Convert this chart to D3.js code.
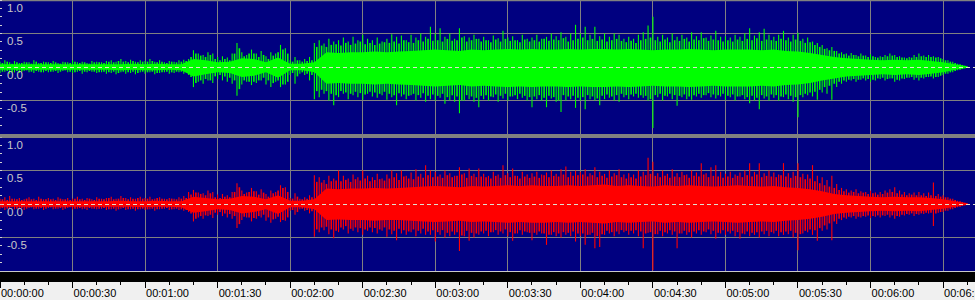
<!DOCTYPE html>
<html><head><meta charset="utf-8">
<script src="https://cdn.jsdelivr.net/npm/d3@7"></script>
<style>body{margin:0;background:#f0f0f0;overflow:hidden}svg{display:block}</style>
</head><body><svg id="c" width="975" height="300"></svg>
<script>
// ---- data ----
const peakStep = 2;   // seconds between peak samples (even seconds)
const midOffset = 1;  // secondary peaks sit on the odd seconds
const bodyStep = 5;   // seconds between body (dense) samples
const timeTickSeconds = [0,30,60,90,120,150,180,210,240,270,300,330,360,390];
const timeTickLabels = ["00:00:00","00:00:30","00:01:00","00:01:30","00:02:00","00:02:30","00:03:00","00:03:30","00:04:00","00:04:30","00:05:00","00:05:30","00:06:00","00:06:30"];
const ampTickValues = [1, 0.5, 0, -0.5];
const ampTickLabels = ["1.0","0.5","0.0","-0.5"];

const leftPeakTop = [
0.08,0.1,0.07,0.09,0.06,0.08,0.07,0.1,0.06,0.08,
0.07,0.09,0.06,0.08,0.07,0.1,0.07,0.08,0.06,0.09,
0.08,0.07,0.09,0.1,0.08,0.12,0.09,0.11,0.08,0.1,
0.09,0.12,0.08,0.1,0.07,0.09,0.08,0.1,0.11,0.12,
0.25,0.2,0.18,0.22,0.2,0.15,0.16,0.14,0.2,0.36,
0.22,0.18,0.26,0.2,0.24,0.16,0.22,0.2,0.33,0.28,
0.1,0.15,0.1,0.12,0.15,0.36,0.4,0.35,0.42,0.38,
0.4,0.44,0.38,0.45,0.4,0.48,0.42,0.4,0.44,0.38,
0.42,0.49,0.45,0.47,0.4,0.48,0.44,0.5,0.45,0.6,
0.5,0.58,0.45,0.5,0.42,0.58,0.46,0.44,0.48,0.42,
0.45,0.4,0.47,0.43,0.54,0.44,0.46,0.4,0.48,0.42,
0.44,0.48,0.42,0.45,0.5,0.46,0.52,0.45,0.5,0.63,
0.5,0.6,0.48,0.6,0.46,0.5,0.45,0.5,0.48,0.42,
0.45,0.42,0.48,0.52,0.62,0.75,0.45,0.48,0.44,0.5,
0.45,0.48,0.44,0.52,0.46,0.52,0.44,0.47,0.54,0.45,
0.46,0.44,0.48,0.45,0.5,0.58,0.47,0.52,0.57,0.48,
0.45,0.48,0.54,0.44,0.48,0.51,0.42,0.44,0.38,0.36,
0.33,0.28,0.3,0.24,0.22,0.2,0.21,0.18,0.2,0.17,
0.19,0.15,0.16,0.18,0.2,0.18,0.16,0.14,0.15,0.18,
0.2,0.17,0.18,0.16,0.15,0.12,0.1,0.08,0.05,0.03,
0.01];
const leftPeakBottom = [
0.09,0.07,0.1,0.08,0.09,0.06,0.08,0.09,0.07,0.08,
0.08,0.07,0.09,0.06,0.08,0.09,0.07,0.1,0.08,0.07,
0.09,0.08,0.1,0.09,0.11,0.08,0.1,0.09,0.11,0.08,
0.1,0.08,0.11,0.09,0.08,0.1,0.09,0.08,0.1,0.12,
0.3,0.22,0.25,0.2,0.24,0.18,0.2,0.22,0.25,0.43,
0.26,0.22,0.27,0.24,0.2,0.26,0.3,0.22,0.3,0.26,
0.12,0.25,0.1,0.12,0.2,0.48,0.45,0.4,0.5,0.57,
0.45,0.4,0.48,0.42,0.45,0.49,0.4,0.44,0.46,0.42,
0.49,0.45,0.57,0.44,0.48,0.42,0.5,0.46,0.52,0.48,
0.5,0.46,0.55,0.5,0.52,0.69,0.5,0.48,0.52,0.6,
0.48,0.5,0.45,0.52,0.47,0.5,0.44,0.48,0.46,0.5,
0.6,0.48,0.5,0.6,0.47,0.52,0.67,0.5,0.48,0.61,
0.5,0.63,0.48,0.5,0.57,0.48,0.46,0.5,0.52,0.45,
0.48,0.44,0.46,0.46,0.5,0.91,0.45,0.5,0.44,0.48,
0.58,0.45,0.48,0.49,0.44,0.46,0.42,0.45,0.47,0.44,
0.49,0.45,0.5,0.44,0.48,0.54,0.5,0.63,0.47,0.5,
0.46,0.5,0.45,0.48,0.52,0.75,0.45,0.42,0.44,0.49,
0.38,0.4,0.49,0.3,0.25,0.22,0.2,0.22,0.19,0.2,
0.22,0.2,0.18,0.2,0.17,0.22,0.2,0.18,0.16,0.19,
0.2,0.17,0.15,0.17,0.15,0.12,0.1,0.08,0.05,0.03,
0.01];
const leftMidTop = [
0.06,0.08,0.05,0.07,0.06,0.07,0.05,0.08,0.06,0.07,
0.06,0.07,0.05,0.07,0.06,0.08,0.06,0.07,0.05,0.07,
0.07,0.06,0.08,0.07,0.09,0.08,0.07,0.09,0.07,0.08,
0.08,0.09,0.07,0.08,0.06,0.08,0.07,0.08,0.09,0.15,
0.2,0.17,0.15,0.18,0.12,0.1,0.12,0.1,0.2,0.28,
0.16,0.2,0.2,0.15,0.18,0.12,0.17,0.22,0.26,0.2,
0.08,0.1,0.08,0.09,0.1,0.3,0.32,0.3,0.33,0.34,
0.32,0.36,0.33,0.35,0.38,0.34,0.36,0.33,0.35,0.37,
0.36,0.38,0.35,0.4,0.37,0.36,0.4,0.38,0.42,0.39,
0.4,0.38,0.42,0.39,0.4,0.44,0.38,0.4,0.42,0.38,
0.4,0.37,0.41,0.38,0.42,0.39,0.4,0.37,0.41,0.38,
0.4,0.38,0.42,0.39,0.41,0.4,0.43,0.38,0.4,0.42,
0.44,0.4,0.42,0.39,0.41,0.38,0.4,0.42,0.39,0.37,
0.39,0.36,0.4,0.42,0.44,0.4,0.38,0.41,0.37,0.4,
0.39,0.42,0.38,0.41,0.4,0.43,0.39,0.41,0.4,0.38,
0.4,0.38,0.41,0.39,0.42,0.4,0.43,0.39,0.41,0.4,
0.39,0.42,0.4,0.38,0.41,0.39,0.36,0.37,0.33,0.3,
0.27,0.25,0.24,0.2,0.19,0.17,0.18,0.16,0.17,0.15,
0.16,0.14,0.15,0.16,0.17,0.15,0.14,0.13,0.14,0.15,
0.16,0.15,0.15,0.14,0.13,0.1,0.08,0.06,0.04,0.02];
const leftMidBottom = [
0.07,0.06,0.08,0.06,0.07,0.05,0.07,0.06,0.08,0.06,
0.07,0.06,0.07,0.05,0.07,0.08,0.06,0.07,0.06,0.07,
0.08,0.07,0.08,0.07,0.09,0.07,0.08,0.07,0.09,0.07,
0.08,0.07,0.09,0.08,0.07,0.08,0.07,0.07,0.08,0.15,
0.24,0.2,0.18,0.2,0.14,0.12,0.14,0.16,0.2,0.33,
0.2,0.22,0.22,0.2,0.16,0.2,0.24,0.2,0.26,0.22,
0.09,0.14,0.08,0.1,0.12,0.36,0.34,0.36,0.4,0.42,
0.36,0.38,0.4,0.37,0.39,0.41,0.37,0.38,0.4,0.37,
0.4,0.42,0.39,0.41,0.43,0.4,0.42,0.39,0.43,0.41,
0.43,0.4,0.45,0.42,0.44,0.5,0.42,0.44,0.46,0.43,
0.42,0.44,0.41,0.43,0.4,0.44,0.42,0.4,0.43,0.45,
0.44,0.42,0.46,0.43,0.45,0.5,0.42,0.44,0.43,0.46,
0.45,0.42,0.44,0.47,0.43,0.41,0.44,0.42,0.4,0.42,
0.41,0.4,0.42,0.43,0.48,0.42,0.4,0.43,0.4,0.42,
0.43,0.41,0.44,0.42,0.4,0.42,0.39,0.41,0.42,0.4,
0.43,0.41,0.44,0.42,0.45,0.43,0.46,0.42,0.44,0.41,
0.42,0.44,0.41,0.43,0.45,0.42,0.4,0.38,0.37,0.34,
0.3,0.28,0.25,0.22,0.2,0.19,0.18,0.19,0.17,0.18,
0.19,0.17,0.16,0.18,0.17,0.19,0.17,0.16,0.15,0.16,
0.16,0.15,0.14,0.15,0.13,0.1,0.08,0.06,0.04,0.02];
const leftBodyTop = [
0.04,0.04,0.04,0.04,0.04,0.04,0.04,0.04,0.04,0.04,0.04,0.05,0.04,0.05,0.04,0.04,
0.12,0.1,0.07,0.08,0.13,0.12,0.07,0.14,0.05,0.05,0.07,
0.22,0.21,0.22,0.22,0.23,0.22,0.23,0.24,0.25,0.26,0.25,0.24,0.26,0.25,0.26,
0.27,0.26,0.27,0.26,0.26,0.27,0.26,0.27,0.27,0.26,0.27,0.26,0.25,0.26,0.26,
0.27,0.26,0.25,0.26,0.26,0.26,0.25,0.26,0.24,0.23,0.21,0.18,
0.15,0.13,0.12,0.11,0.1,0.11,0.1,0.11,0.09,0.07,0.04,0.01];
const leftBodyBottom = [
0.04,0.04,0.04,0.04,0.04,0.04,0.04,0.04,0.04,0.04,0.05,0.04,0.05,0.05,0.04,0.05,
0.14,0.11,0.08,0.09,0.15,0.13,0.08,0.16,0.05,0.05,0.08,
0.25,0.24,0.25,0.25,0.26,0.25,0.26,0.27,0.28,0.29,0.28,0.27,0.29,0.28,0.29,
0.3,0.29,0.3,0.29,0.29,0.3,0.29,0.3,0.3,0.29,0.3,0.29,0.28,0.29,0.29,
0.3,0.29,0.28,0.29,0.29,0.29,0.28,0.29,0.27,0.26,0.24,0.2,
0.17,0.14,0.13,0.12,0.11,0.12,0.11,0.12,0.1,0.08,0.04,0.01];

const rightPeakTop = [
0.08,0.1,0.12,0.08,0.09,0.07,0.1,0.08,0.11,0.07,
0.09,0.08,0.1,0.07,0.09,0.08,0.11,0.08,0.09,0.07,
0.1,0.08,0.09,0.11,0.08,0.12,0.09,0.1,0.08,0.11,
0.09,0.11,0.08,0.1,0.08,0.09,0.08,0.1,0.12,0.18,
0.21,0.17,0.16,0.2,0.18,0.14,0.15,0.13,0.18,0.31,
0.2,0.17,0.24,0.19,0.22,0.15,0.2,0.18,0.28,0.25,
0.09,0.16,0.08,0.1,0.13,0.43,0.4,0.36,0.42,0.38,
0.5,0.42,0.38,0.44,0.4,0.5,0.42,0.4,0.45,0.38,
0.44,0.5,0.46,0.5,0.42,0.47,0.52,0.45,0.58,0.5,
0.48,0.44,0.5,0.46,0.42,0.55,0.46,0.53,0.45,0.53,
0.45,0.42,0.48,0.44,0.58,0.46,0.53,0.42,0.48,0.44,
0.46,0.48,0.44,0.47,0.5,0.45,0.52,0.56,0.48,0.5,
0.48,0.52,0.46,0.55,0.48,0.45,0.5,0.46,0.52,0.44,
0.46,0.44,0.5,0.48,0.69,0.63,0.46,0.5,0.45,0.52,
0.46,0.48,0.44,0.5,0.47,0.61,0.46,0.55,0.58,0.48,
0.45,0.48,0.44,0.47,0.5,0.61,0.48,0.61,0.46,0.5,
0.47,0.44,0.61,0.46,0.48,0.61,0.45,0.44,0.58,0.42,
0.4,0.36,0.42,0.3,0.24,0.22,0.2,0.22,0.19,0.18,
0.2,0.17,0.18,0.2,0.22,0.25,0.2,0.18,0.16,0.17,
0.18,0.16,0.17,0.32,0.15,0.13,0.1,0.08,0.05,0.03,
0.01];
const rightPeakBottom = [
0.07,0.09,0.06,0.08,0.07,0.09,0.06,0.08,0.07,0.09,
0.06,0.08,0.07,0.09,0.06,0.08,0.07,0.08,0.09,0.07,
0.08,0.07,0.09,0.08,0.1,0.07,0.09,0.08,0.1,0.08,
0.09,0.08,0.1,0.08,0.07,0.09,0.08,0.09,0.1,0.12,
0.26,0.2,0.22,0.18,0.21,0.16,0.18,0.2,0.22,0.36,
0.24,0.2,0.26,0.22,0.2,0.25,0.28,0.22,0.27,0.25,
0.1,0.16,0.08,0.1,0.14,0.49,0.42,0.39,0.45,0.51,
0.42,0.38,0.44,0.4,0.42,0.46,0.4,0.42,0.44,0.4,
0.49,0.45,0.54,0.44,0.46,0.42,0.48,0.44,0.46,0.46,
0.56,0.46,0.5,0.48,0.46,0.7,0.48,0.55,0.5,0.46,
0.44,0.48,0.42,0.46,0.44,0.48,0.55,0.44,0.46,0.42,
0.54,0.46,0.44,0.61,0.46,0.48,0.5,0.46,0.48,0.56,
0.48,0.61,0.46,0.66,0.64,0.46,0.44,0.48,0.45,0.42,
0.46,0.44,0.48,0.66,0.43,0.99,0.45,0.48,0.44,0.46,
0.66,0.44,0.46,0.5,0.44,0.46,0.42,0.45,0.52,0.44,
0.46,0.44,0.48,0.52,0.45,0.48,0.46,0.5,0.45,0.48,
0.44,0.48,0.46,0.45,0.5,0.69,0.44,0.42,0.46,0.55,
0.4,0.38,0.54,0.3,0.24,0.22,0.2,0.22,0.2,0.19,
0.21,0.19,0.2,0.18,0.2,0.22,0.19,0.17,0.16,0.18,
0.16,0.15,0.14,0.33,0.13,0.12,0.1,0.08,0.05,0.03,
0.01];
const rightMidTop = [
0.07,0.06,0.08,0.07,0.06,0.08,0.07,0.06,0.08,0.07,
0.07,0.06,0.08,0.07,0.06,0.08,0.07,0.06,0.08,0.06,
0.08,0.07,0.09,0.07,0.08,0.09,0.07,0.08,0.09,0.08,
0.08,0.07,0.09,0.08,0.07,0.08,0.07,0.08,0.09,0.14,
0.17,0.15,0.13,0.16,0.1,0.09,0.11,0.1,0.18,0.25,
0.15,0.18,0.19,0.14,0.17,0.11,0.16,0.2,0.24,0.18,
0.08,0.11,0.07,0.08,0.1,0.33,0.32,0.3,0.34,0.35,
0.34,0.36,0.33,0.37,0.35,0.38,0.34,0.36,0.37,0.35,
0.38,0.4,0.36,0.41,0.38,0.37,0.41,0.39,0.43,0.4,
0.41,0.39,0.43,0.4,0.42,0.44,0.39,0.42,0.4,0.41,
0.4,0.38,0.42,0.39,0.43,0.4,0.42,0.38,0.41,0.39,
0.41,0.39,0.43,0.4,0.42,0.41,0.44,0.4,0.42,0.43,
0.44,0.41,0.43,0.4,0.42,0.39,0.41,0.43,0.4,0.38,
0.4,0.38,0.41,0.43,0.45,0.42,0.4,0.42,0.39,0.41,
0.4,0.43,0.39,0.42,0.41,0.44,0.4,0.42,0.41,0.39,
0.41,0.39,0.42,0.4,0.43,0.41,0.44,0.4,0.42,0.41,
0.4,0.43,0.41,0.39,0.42,0.4,0.37,0.38,0.34,0.31,
0.28,0.26,0.24,0.21,0.19,0.17,0.18,0.16,0.17,0.15,
0.16,0.14,0.15,0.17,0.18,0.16,0.14,0.13,0.14,0.13,
0.13,0.12,0.13,0.12,0.11,0.1,0.08,0.06,0.04,0.02];
const rightMidBottom = [
0.06,0.07,0.05,0.07,0.06,0.07,0.05,0.07,0.06,0.07,
0.05,0.07,0.06,0.07,0.05,0.07,0.06,0.07,0.06,0.07,
0.07,0.06,0.08,0.07,0.08,0.06,0.08,0.07,0.08,0.07,
0.08,0.07,0.08,0.07,0.06,0.08,0.07,0.08,0.09,0.14,
0.22,0.18,0.17,0.16,0.13,0.12,0.14,0.15,0.18,0.3,
0.19,0.2,0.21,0.18,0.16,0.2,0.23,0.19,0.24,0.2,
0.09,0.12,0.07,0.09,0.11,0.38,0.35,0.34,0.38,0.4,
0.35,0.33,0.37,0.35,0.36,0.38,0.35,0.36,0.38,0.35,
0.38,0.4,0.37,0.39,0.41,0.38,0.4,0.37,0.41,0.39,
0.42,0.39,0.43,0.41,0.42,0.47,0.4,0.43,0.44,0.41,
0.4,0.42,0.39,0.41,0.38,0.42,0.44,0.39,0.41,0.43,
0.43,0.41,0.44,0.46,0.42,0.44,0.42,0.43,0.41,0.44,
0.44,0.46,0.43,0.48,0.45,0.4,0.42,0.41,0.39,0.4,
0.4,0.39,0.41,0.44,0.42,0.45,0.4,0.42,0.39,0.41,
0.44,0.4,0.42,0.41,0.39,0.41,0.38,0.4,0.43,0.39,
0.41,0.4,0.42,0.44,0.41,0.43,0.42,0.41,0.4,0.42,
0.4,0.42,0.41,0.4,0.43,0.45,0.4,0.38,0.39,0.36,
0.32,0.29,0.26,0.22,0.2,0.19,0.18,0.19,0.18,0.17,
0.18,0.17,0.17,0.16,0.17,0.18,0.16,0.15,0.14,0.15,
0.14,0.13,0.13,0.14,0.12,0.1,0.08,0.06,0.04,0.02];
const rightBodyTop = [
0.04,0.04,0.04,0.04,0.04,0.04,0.04,0.04,0.04,0.04,0.05,0.04,0.04,0.05,0.04,0.04,
0.11,0.09,0.07,0.08,0.12,0.11,0.07,0.13,0.05,0.05,0.07,
0.23,0.22,0.23,0.23,0.24,0.23,0.24,0.25,0.26,0.27,0.26,0.25,0.27,0.26,0.27,
0.28,0.27,0.28,0.27,0.27,0.28,0.27,0.28,0.29,0.27,0.28,0.27,0.26,0.28,0.27,
0.28,0.27,0.26,0.27,0.28,0.27,0.26,0.27,0.25,0.24,0.22,0.19,
0.15,0.13,0.12,0.11,0.1,0.11,0.1,0.1,0.09,0.07,0.04,0.01];
const rightBodyBottom = [
0.04,0.04,0.04,0.04,0.04,0.04,0.04,0.04,0.04,0.04,0.04,0.04,0.05,0.04,0.04,0.05,
0.13,0.11,0.08,0.09,0.14,0.12,0.08,0.15,0.05,0.05,0.08,
0.24,0.23,0.24,0.24,0.25,0.24,0.24,0.25,0.26,0.27,0.26,0.25,0.27,0.26,0.27,
0.28,0.27,0.28,0.28,0.27,0.28,0.27,0.28,0.29,0.27,0.28,0.27,0.26,0.28,0.27,
0.28,0.27,0.26,0.27,0.28,0.27,0.26,0.27,0.25,0.24,0.22,0.19,
0.15,0.13,0.12,0.11,0.1,0.11,0.1,0.11,0.09,0.07,0.04,0.01];

// ---- drawing ----
const W = 975, H = 300;
const svg = d3.select("#c");
const x = d3.scaleLinear().domain([0, 403.2]).range([0, W]);
const panels = [
  {y: d3.scaleLinear().domain([-1, 1]).range([134, 0]), color: "#00ff00",
   pTop: leftPeakTop, pBot: leftPeakBottom, mTop: leftMidTop, mBot: leftMidBottom,
   bTop: leftBodyTop, bBot: leftBodyBottom},
  {y: d3.scaleLinear().domain([-1, 1]).range([271, 137]), color: "#ff0000",
   pTop: rightPeakTop, pBot: rightPeakBottom, mTop: rightMidTop, mBot: rightMidBottom,
   bTop: rightBodyTop, bBot: rightBodyBottom}
];
const font = "'Liberation Sans', Arial, sans-serif";
const px = v => Math.floor(v) + 0.5;

svg.append("rect").attr("x",0).attr("y",0).attr("width",W).attr("height",H).attr("fill","#f0f0f0");
svg.append("rect").attr("x",0).attr("y",0).attr("width",W).attr("height",272).attr("fill","#000080");

// horizontal grid
panels.forEach(p => {
  [1, 0.5, -0.5].forEach(v => {
    svg.append("line").attr("x1",0).attr("x2",W).attr("y1",px(p.y(v))).attr("y2",px(p.y(v)))
      .attr("stroke","#808080").attr("stroke-width",1);
  });
});
svg.append("line").attr("x1",0).attr("x2",W).attr("y1",0.5).attr("y2",0.5).attr("stroke","#808080").attr("stroke-width",1.5);
// vertical grid
timeTickSeconds.forEach(t => {
  if (t === 0) return;
  svg.append("line").attr("x1",px(x(t))).attr("x2",px(x(t))).attr("y1",0).attr("y2",272)
    .attr("stroke","#808080").attr("stroke-width",1);
});

panels.forEach(p => {
  const g = svg.append("g");
  const body = d3.area()
    .x((d,i) => x(i*bodyStep))
    .y0((d,i) => p.y(-p.bBot[i]))
    .y1((d,i) => p.y(p.bTop[i]))
    .curve(d3.curveLinear);
  g.append("path").datum(p.bTop).attr("d", body).attr("fill", p.color);
  g.selectAll("line.mid").data(p.mTop).join("line").attr("class","mid")
    .attr("x1",(d,i)=>x(i*peakStep+midOffset)).attr("x2",(d,i)=>x(i*peakStep+midOffset))
    .attr("y1",d=>p.y(d)).attr("y2",(d,i)=>p.y(-p.mBot[i]))
    .attr("stroke",p.color).attr("stroke-width",1.6);
  g.selectAll("line.spike").data(p.pTop).join("line").attr("class","spike")
    .attr("x1",(d,i)=>x(i*peakStep)).attr("x2",(d,i)=>x(i*peakStep))
    .attr("y1",d=>p.y(d)).attr("y2",(d,i)=>p.y(-p.pBot[i]))
    .attr("stroke",p.color).attr("stroke-width",1.1);
  g.append("line").attr("x1",0).attr("x2",W).attr("y1",px(p.y(0))).attr("y2",px(p.y(0)))
    .attr("stroke","#e0e0d0").attr("stroke-width",1).attr("stroke-dasharray","4,3");
  d3.range(-1, 1.0001, 0.125).forEach(v => {
    g.append("line").attr("x1",0).attr("x2",2).attr("y1",px(p.y(v))).attr("y2",px(p.y(v)))
      .attr("stroke","#d0d0d0").attr("stroke-width",1);
  });
  ampTickValues.forEach((v,i) => {
    g.append("text").attr("x",7).attr("y",p.y(v)+11.5).text(ampTickLabels[i])
      .attr("fill","#c8c8c8").attr("font-family",font).attr("font-size","11.5px");
  });
});

svg.append("rect").attr("x",0).attr("y",134).attr("width",W).attr("height",3.5).attr("fill","#808080");
svg.append("rect").attr("x",0).attr("y",271).attr("width",W).attr("height",1.2).attr("fill","#c8c8c8");
svg.append("rect").attr("x",0).attr("y",272).attr("width",W).attr("height",10).attr("fill","#000000");

d3.range(0, 403, 10).forEach(t => {
  const major = t % 30 === 0;
  svg.append("line").attr("x1",px(x(t))).attr("x2",px(x(t)))
    .attr("y1",282).attr("y2", major ? 288 : 285)
    .attr("stroke","#000").attr("stroke-width",1);
});
timeTickSeconds.forEach((t,i) => {
  svg.append("text").attr("x", x(t)+1).attr("y",297).text(timeTickLabels[i])
    .attr("fill","#000").attr("font-family",font).attr("font-size","11px");
});
</script></body></html>
